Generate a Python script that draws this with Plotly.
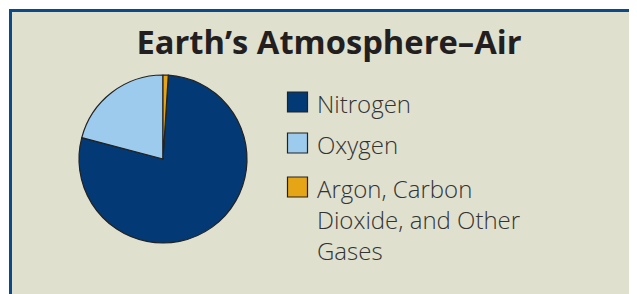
import plotly.graph_objects as go

gases = ["Nitrogen", "Oxygen", "Argon, Carbon<br>Dioxide, and Other<br>Gases"]
percent = [78.1, 20.9, 1.0]
colors = ["#033a76", "#9dcbee", "#e6a514"]

W, H = 637, 286  # page body adds an 8px margin at left/top

def px(x):
    return x / W

def py(y):
    return 1 - y / H

fig = go.Figure()
fig.add_trace(go.Pie(
    labels=gases,
    values=percent,
    sort=False,
    direction="clockwise",
    rotation=3.6,
    marker=dict(colors=colors, line=dict(color="#222222", width=1.2)),
    textinfo="none",
    hoverinfo="label+percent",
    showlegend=False,
    domain=dict(x=[px(71), px(239)], y=[py(235), py(67)]),
))

shapes = [dict(type="rect", xref="paper", yref="paper", layer="below",
               x0=px(2.5), x1=1.2, y0=-0.2, y1=py(2.5),
               line=dict(color="#0b4a86", width=3), fillcolor="#e0e0cf")]
annotations = []
row_top = [84, 125, 169]
for name, col, top in zip(gases, colors, row_top):
    shapes.append(dict(type="rect", xref="paper", yref="paper",
                       x0=px(279.5), x1=px(299.5), y0=py(top + 20), y1=py(top),
                       line=dict(color="#222222", width=1.2), fillcolor=col))
    annotations.append(dict(text=name, xref="paper", yref="paper", showarrow=False,
                            x=px(307), y=py(top - 7), xanchor="left", yanchor="top",
                            align="left",
                            font=dict(family="Open Sans", size=24, color="#333333", weight=300)))

fig.update_layout(
    width=W, height=H,
    margin=dict(l=0, r=0, t=0, b=0),
    paper_bgcolor="white",
    title=dict(text="<b>Earth’s Atmosphere–Air</b>", x=px(321), xanchor="center",
               y=py(35), yanchor="middle",
               font=dict(family="Open Sans", size=32.7, color="#231f20")),
    shapes=shapes,
    annotations=annotations,
)

fig.write_html("out.html")
